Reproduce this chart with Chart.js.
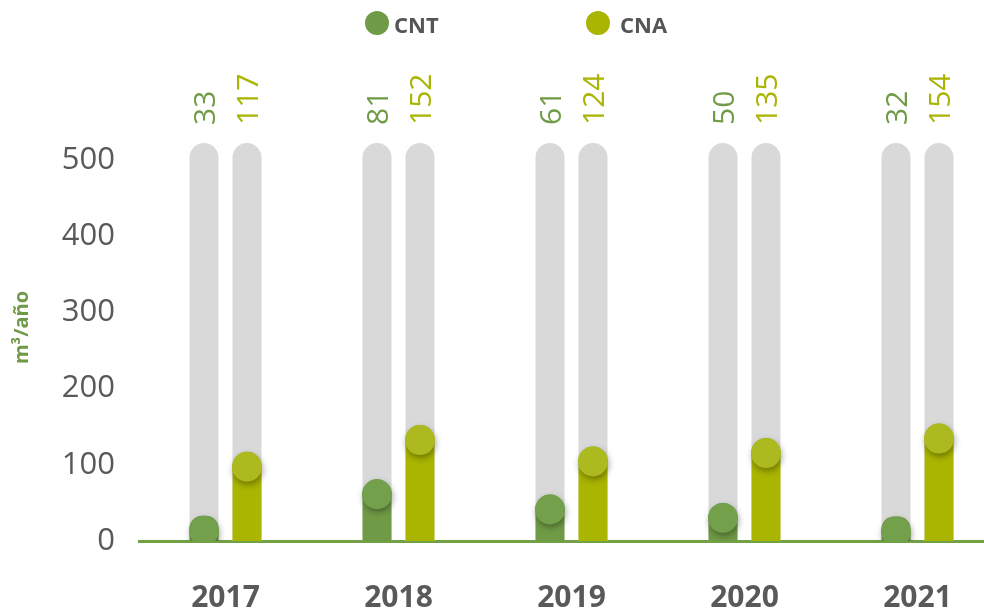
<!DOCTYPE html>
<html>
<head>
<meta charset="utf-8">
<script src="https://cdn.jsdelivr.net/npm/chart.js@4"></script>
<style>
  body { margin: 0; background: #fff; }
  #wrap { position: relative; width: 984px; height: 614px; overflow: hidden; }
  #legend span { position: absolute; }
  .dot { width: 24px; height: 24px; border-radius: 50%; top: 11px; }
  .lbl { font: bold 22px "Open Sans", sans-serif; line-height: 22px; color: #555; top: 13px; }
</style>
</head>
<body>
<div id="wrap">
  <canvas id="chart" width="1004" height="614"></canvas>
  <div id="legend">
    <span class="dot" style="left:365px;background:#709b46"></span>
    <span class="lbl" style="left:394px">CNT</span>
    <span class="dot" style="left:586px;background:#a9b500"></span>
    <span class="lbl" style="left:620px">CNA</span>
  </div>
</div>
<script>
// Data
const YEARS = ['2017', '2018', '2019', '2020', '2021'];
const CNT = [33, 81, 61, 50, 32];
const CNA = [117, 152, 124, 135, 154];
const TRACK = 522;           // height of the grey background tracks
const Y_TICKS = [0, 100, 200, 300, 400, 500];

const COLORS = {
    cnt: { bar: '#709b46', dot: '#73a04a' },
    cna: { bar: '#a9b500', dot: '#acb91f' },
    track: '#d9d9d9',
    axis: '#71a045',
    text: '#595959'
};

// dots on top of the bars + rotated value labels
const dotsPlugin = {
    id: 'dots',
    afterDatasetsDraw(chart) {
        const { ctx, chartArea } = chart;
        [0, 1].forEach(i => {
            const ds = chart.data.datasets[i];
            chart.getDatasetMeta(i).data.forEach(bar => {
                const r = bar.width / 2 + 0.5;
                ctx.save();
                ctx.beginPath();
                ctx.rect(chartArea.left, chartArea.top, chartArea.right - chartArea.left, chartArea.bottom - chartArea.top);
                ctx.clip();
                ctx.shadowColor = 'rgba(0,0,0,0.35)';
                ctx.shadowBlur = 6;
                ctx.shadowOffsetX = 1;
                ctx.shadowOffsetY = 3;
                ctx.fillStyle = ds.dotColor;
                ctx.beginPath();
                ctx.arc(bar.x, bar.y + r, r, 0, Math.PI * 2);
                ctx.fill();
                ctx.restore();
            });
        });
    },
    afterDraw(chart) {
        const { ctx } = chart;
        const topY = chart.scales.y.getPixelForValue(TRACK) - 18;
        [0, 1].forEach(i => {
            const ds = chart.data.datasets[i];
            chart.getDatasetMeta(i).data.forEach((bar, j) => {
                ctx.save();
                ctx.translate(bar.x + 2, topY);
                ctx.rotate(-Math.PI / 2);
                ctx.font = '30px "Open Sans", sans-serif';
                ctx.fillStyle = ds.labelColor;
                ctx.textAlign = 'left';
                ctx.textBaseline = 'middle';
                ctx.fillText(String(ds.data[j]), 0, 0);
                ctx.restore();
            });
        });
    }
};

new Chart(document.getElementById('chart'), {
    type: 'bar',
    data: {
        labels: YEARS,
        datasets: [
            {
                label: 'CNT',
                data: CNT,
                stack: 'cnt',
                backgroundColor: COLORS.cnt.bar,
                dotColor: COLORS.cnt.dot,
                labelColor: COLORS.cnt.bar,
                borderRadius: 15
            },
            {
                label: 'CNA',
                data: CNA,
                stack: 'cna',
                backgroundColor: COLORS.cna.bar,
                dotColor: COLORS.cna.dot,
                labelColor: COLORS.cna.bar,
                borderRadius: 15
            },
            {
                label: 'CNT track',
                data: YEARS.map(() => TRACK),
                stack: 'cnt',
                backgroundColor: COLORS.track,
                borderRadius: 15
            },
            {
                label: 'CNA track',
                data: YEARS.map(() => TRACK),
                stack: 'cna',
                backgroundColor: COLORS.track,
                borderRadius: 15
            }
        ]
    },
    options: {
        responsive: false,
        animation: false,
        categoryPercentage: 0.497,
        barPercentage: 0.674,
        layout: { padding: { top: 114, left: 0, right: 0, bottom: 0 } },
        plugins: {
            legend: { display: false },
            tooltip: { enabled: false }
        },
        scales: {
            x: {
                z: 1,
                grid: { display: false, drawTicks: false },
                border: { display: true, color: COLORS.axis, width: 3 },
                ticks: {
                    color: COLORS.text,
                    padding: 39,
                    font: { family: '"Open Sans", sans-serif', size: 30, weight: 'bold' }
                },
                afterFit(scale) { scale.height = 73; }
            },
            y: {
                stacked: false,
                min: 0,
                max: 560,
                grid: { display: false, drawTicks: false },
                border: { display: false },
                afterBuildTicks(scale) { scale.ticks = Y_TICKS.map(v => ({ value: v })); },
                ticks: {
                    color: COLORS.text,
                    padding: 24,
                    font: { family: '"Open Sans", sans-serif', size: 31 }
                },
                title: {
                    display: true,
                    text: 'm³/año',
                    color: COLORS.cnt.bar,
                    padding: { top: 10, bottom: 0 },
                    font: { family: '"Open Sans", sans-serif', size: 20, weight: 'bold' }
                },
                afterFit(scale) { scale.width = 139; }
            }
        }
    },
    plugins: [dotsPlugin]
});
</script>
</body>
</html>
